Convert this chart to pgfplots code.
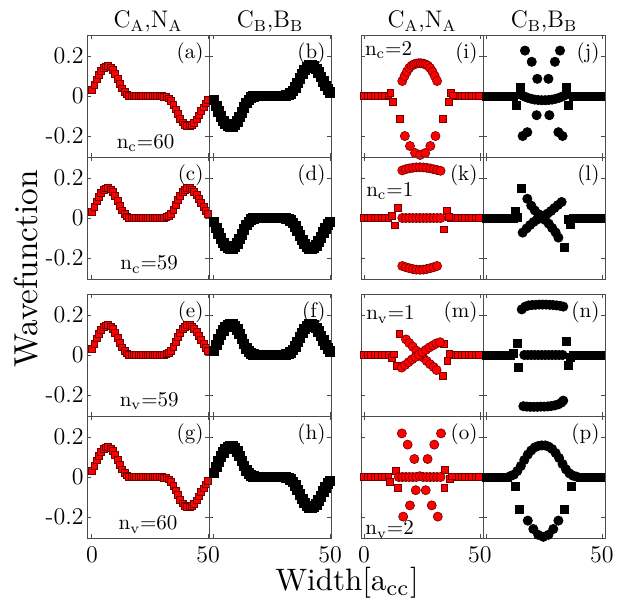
\documentclass[border=0pt]{standalone}
\usepackage{fontspec}
\usepackage{pgfplots}
\usepackage{pgfplotstable}
\pgfplotsset{compat=1.18}

\definecolor{edgered}{RGB}{110,0,0}

% left block: one column per panel (a)..(h)
\pgfplotstableread{
x  a      b      c      d      e      f      g      h
0  0.030 -0.020  0.030 -0.020  0.030  0.020  0.030  0.020
1  0.057 -0.050  0.057 -0.050  0.057  0.050  0.057  0.050
2  0.084 -0.078  0.084 -0.078  0.084  0.078  0.084  0.078
3  0.108 -0.102  0.108 -0.102  0.108  0.102  0.108  0.102
4  0.128 -0.124  0.128 -0.124  0.128  0.124  0.128  0.124
5  0.141 -0.140  0.141 -0.140  0.141  0.140  0.141  0.140
6  0.149 -0.150  0.149 -0.150  0.149  0.150  0.149  0.150
7  0.150 -0.155  0.150 -0.155  0.150  0.155  0.150  0.155
8  0.144 -0.152  0.144 -0.152  0.144  0.152  0.144  0.152
9  0.131 -0.143  0.131 -0.143  0.131  0.143  0.131  0.143
10 0.111 -0.127  0.111 -0.127  0.111  0.127  0.111  0.127
11 0.087 -0.105  0.087 -0.105  0.087  0.105  0.087  0.105
12 0.062 -0.081  0.062 -0.081  0.062  0.081  0.062  0.081
13 0.039 -0.056  0.039 -0.056  0.039  0.056  0.039  0.056
14 0.021 -0.034  0.021 -0.034  0.021  0.034  0.021  0.034
15 0.009 -0.019  0.009 -0.019  0.009  0.019  0.009  0.019
16 0.003 -0.008  0.003 -0.008  0.003  0.008  0.003  0.008
17 0     -0.003  0     -0.003  0      0.003  0      0.003
18 0      0      0      0      0      0      0      0
19 0      0      0      0      0      0      0      0
20 0      0      0      0      0      0      0      0
21 0      0      0      0      0      0      0      0
22 0      0      0      0      0      0      0      0
23 0      0      0      0      0      0      0      0
24 0      0      0      0      0      0      0      0
25 0      0      0      0      0      0      0      0
26 0      0      0      0      0      0      0      0
27 0      0      0      0      0      0      0      0
28 0      0      0      0      0      0      0      0
29 0      0      0      0      0      0      0      0
30 0      0      0      0      0      0      0      0
31 -0.002 0.002  0.002 -0.002  0.002  0.002 -0.002 -0.002
32 -0.005 0.005  0.005 -0.005  0.005  0.005 -0.005 -0.005
33 -0.011 0.012  0.011 -0.012  0.011  0.012 -0.011 -0.012
34 -0.023 0.025  0.023 -0.025  0.023  0.025 -0.023 -0.025
35 -0.042 0.043  0.042 -0.043  0.042  0.043 -0.042 -0.043
36 -0.066 0.065  0.066 -0.065  0.066  0.065 -0.066 -0.065
37 -0.090 0.088  0.090 -0.088  0.090  0.088 -0.090 -0.088
38 -0.113 0.110  0.113 -0.110  0.113  0.110 -0.113 -0.110
39 -0.131 0.130  0.131 -0.130  0.131  0.130 -0.131 -0.130
40 -0.143 0.144  0.143 -0.144  0.143  0.144 -0.143 -0.144
41 -0.150 0.153  0.150 -0.153  0.150  0.153 -0.150 -0.153
42 -0.150 0.155  0.150 -0.155  0.150  0.155 -0.150 -0.155
43 -0.144 0.149  0.144 -0.149  0.144  0.149 -0.144 -0.149
44 -0.132 0.136  0.132 -0.136  0.132  0.136 -0.132 -0.136
45 -0.116 0.118  0.116 -0.118  0.116  0.118 -0.116 -0.118
46 -0.096 0.096  0.096 -0.096  0.096  0.096 -0.096 -0.096
47 -0.075 0.073  0.075 -0.073  0.075  0.073 -0.075 -0.073
48 -0.056 0.051  0.056 -0.051  0.056  0.051 -0.056 -0.051
49 -0.036 0.033  0.036 -0.033  0.036  0.033 -0.036 -0.033
50 -0.020 0.019  0.020 -0.019  0.020  0.019 -0.020 -0.019
}\lefttab

\pgfplotsset{
  panel/.style={
    scale only axis, width=61pt, height=61pt, anchor=north west,
    ymin=-0.305, ymax=0.305, ytick={-0.2,0,0.2}, xtick={0,50},
    xticklabels={}, yticklabels={},
    tick align=inside, major tick length=2pt,
    axis line style={black!70, line width=0.4pt},
    every tick/.style={black!70, line width=0.4pt},
    tick label style={font=\fontsize{12}{14}\selectfont},
    yticklabel style={inner sep=1.5pt},
    xticklabel style={inner sep=0.5pt, yshift=-3.5pt},
    every axis title/.style={at={(0.5,1)}, anchor=base, yshift=3.5pt,
      inner sep=0pt, font=\fontsize{12}{14}\selectfont},
  },
  lpanel/.style={panel, xmin=-2.1, xmax=50.4},
  rpanel/.style={panel, xmin=-1.3, xmax=51.3},
  rsq/.style={only marks, mark=square*, mark size=1.7pt,
    mark options={fill=red, draw=edgered, line width=0.3pt}},
  rci/.style={only marks, mark=*, mark size=2.3pt,
    mark options={fill=red, draw=edgered, line width=0.3pt}},
  bband/.style={only marks, mark=square*, mark size=2.4pt,
    mark options={fill=black, draw=black}},
  bsq/.style={only marks, mark=square*, mark size=2pt,
    mark options={fill=black, draw=black}},
  bci/.style={only marks, mark=*, mark size=2.3pt,
    mark options={fill=black, draw=black}},
}
\tikzset{
  plab/.style={anchor=north east, inner sep=0pt, font=\fontsize{10.5}{12}\selectfont},
  nlab/.style={inner sep=0pt, font=\fontsize{10.5}{12}\selectfont},
}

\newcommand{\lab}[1]{\node[plab] at (rel axis cs:0.958,0.943) {(#1)};}

\begin{document}
\begin{tikzpicture}
\path[use as bounding box] (0,0) rectangle (312pt,-299.5pt);

% ---------------- left block ----------------
\begin{axis}[lpanel, at={(43.5pt,-17.5pt)}, yticklabels={-0.2,0,0.2},
  title={C\textsubscript{A},N\textsubscript{A}}]
\addplot[rsq] table[x=x,y=a] {\lefttab};
\lab{a}
\node[nlab, anchor=base] at (rel axis cs:0.48,0.071) {n\textsubscript{c}=60};
\end{axis}
\begin{axis}[lpanel, at={(104.5pt,-17.5pt)},
  title={C\textsubscript{B},B\textsubscript{B}}]
\addplot[bband] table[x=x,y=b] {\lefttab};
\lab{b}
\end{axis}

\begin{axis}[lpanel, at={(43.5pt,-78.5pt)}, yticklabels={-0.2,0,0.2}]
\addplot[rsq] table[x=x,y=c] {\lefttab};
\lab{c}
\node[nlab, anchor=base] at (rel axis cs:0.51,0.074) {n\textsubscript{c}=59};
\end{axis}
\begin{axis}[lpanel, at={(104.5pt,-78.5pt)}]
\addplot[bband] table[x=x,y=d] {\lefttab};
\lab{d}
\end{axis}

\begin{axis}[lpanel, at={(43.5pt,-147pt)}, yticklabels={-0.2,0,0.2}]
\addplot[rsq] table[x=x,y=e] {\lefttab};
\lab{e}
\node[nlab, anchor=base] at (rel axis cs:0.51,0.082) {n\textsubscript{v}=59};
\end{axis}
\begin{axis}[lpanel, at={(104.5pt,-147pt)}]
\addplot[bband] table[x=x,y=f] {\lefttab};
\lab{f}
\end{axis}

\begin{axis}[lpanel, at={(43.5pt,-208pt)}, yticklabels={-0.2,0,0.2},
  xticklabels={0,50}]
\addplot[rsq] table[x=x,y=g] {\lefttab};
\lab{g}
\node[nlab, anchor=base] at (rel axis cs:0.5,0.066) {n\textsubscript{v}=60};
\end{axis}
\begin{axis}[lpanel, at={(104.5pt,-208pt)}, xticklabels={,50}]
\addplot[bband] table[x=x,y=h] {\lefttab};
\lab{h}
\end{axis}

% ---------------- right block ----------------
% (i)
\begin{axis}[rpanel, at={(180.5pt,-17.5pt)},
  title={C\textsubscript{A},N\textsubscript{A}}]
\addplot[rsq] coordinates {(0,0)(1.5,0)(3,0)(4.5,0)(6,0)(7.5,0)(9,0)
  (39,0)(40.5,0)(42,0)(43.5,0)(45,0)(46.5,0)(48,0)(49.5,0)};
\addplot[rsq] coordinates {(10.5,0.004)(11.3,0.016)(12.3,-0.03)(15.5,-0.112)
  (33.9,-0.112)(36.4,-0.03)(37.4,0.016)(38.2,0.004)};
\addplot[rci] coordinates {(16.5,0.075)(17.5,0.1)(18.5,0.122)(19.5,0.14)(20.5,0.152)
  (21.5,0.158)(22.5,0.162)(23.5,0.164)(24.5,0.164)(25.5,0.162)(26.5,0.158)
  (27.5,0.152)(28.5,0.14)(29.5,0.122)(30.5,0.1)(31.5,0.075)};
\addplot[rci] coordinates {(17.6,-0.2)(19.8,-0.25)(22,-0.285)(24.2,-0.295)
  (26.4,-0.285)(28.6,-0.25)(30.8,-0.2)};
\lab{i}
\node[nlab, anchor=base west] at (rel axis cs:0.03,0.836) {n\textsubscript{c}=2};
\end{axis}
% (j)
\begin{axis}[rpanel, at={(241.5pt,-17.5pt)},
  title={C\textsubscript{B},B\textsubscript{B}}]
\addplot[bsq] coordinates {(0,0)(1.5,0)(3,0)(4.5,0)(6,0)(7.5,0)(9,0)(10.5,0)(12,0)
  (37.5,0)(39,0)(40.5,0)(42,0)(43.5,0)(45,0)(46.5,0)(48,0)(49.5,0)};
\addplot[bsq] coordinates {(13.2,-0.046)(14.7,0.044)(34.8,0.044)(35.5,-0.046)};
\addplot[bci] coordinates {(15,0.006)(16.5,-0.002)(18,-0.009)(19.5,-0.014)(21,-0.018)
  (22.5,-0.02)(24,-0.021)(25.5,-0.021)(27,-0.02)(28.5,-0.018)(30,-0.014)
  (31.5,-0.009)(33,-0.002)(34.5,0.006)};
\addplot[bci] coordinates {(16.8,0.227)(31.9,0.227)(19.7,0.171)(29.7,0.171)
  (22.1,0.086)(26.9,0.086)(21.8,-0.096)(27.3,-0.096)(17.8,-0.181)(31.2,-0.181)
  (15.8,-0.2)(33,-0.2)};
\lab{j}
\end{axis}

% (k)
\begin{axis}[rpanel, at={(180.5pt,-78.5pt)}]
\addplot[rsq] coordinates {(0,0)(1.5,0)(3,0)(4.5,0)(6,0)(7.5,0)(9,0)(10.5,0)
  (37.5,0)(39,0)(40.5,0)(42,0)(43.5,0)(45,0)(46.5,0)(48,0)(49.5,0)};
\addplot[rsq] coordinates {(11.9,0.012)(13.4,-0.036)(14.4,0.052)
  (34.5,-0.056)(35.6,0.035)(36.5,0.008)};
\addplot[rci] coordinates {(16.5,0)(18,0)(19.5,0)(21,0)(22.5,0)(24,0)(25.5,0)
  (27,0)(28.5,0)(30,0)(31.5,0)(33,0)};
\addplot[rci] coordinates {(16.5,0.238)(18,0.244)(19.5,0.248)(21,0.251)(22.5,0.253)
  (24,0.254)(25.5,0.253)(27,0.251)(28.5,0.248)(30,0.244)(31.5,0.24)(33,0.236)};
\addplot[rci] coordinates {(16.5,-0.24)(18,-0.246)(19.5,-0.251)(21,-0.255)
  (22.5,-0.258)(24,-0.259)(25.5,-0.258)(27,-0.255)(28.5,-0.251)(30,-0.246)(31.5,-0.24)};
\lab{k}
\node[nlab, anchor=base west] at (rel axis cs:0.04,0.675) {n\textsubscript{c}=1};
\end{axis}
% (l)
\begin{axis}[rpanel, at={(241.5pt,-78.5pt)}]
\addplot[bsq] coordinates {(0,0)(1.5,0)(3,0)(4.5,0)(6,0)(7.5,0)(9,0)(10.5,0)(12,0)
  (37.5,0)(39,0)(40.5,0)(42,0)(43.5,0)(45,0)(46.5,0)(48,0)(49.5,0)};
\addplot[bsq] coordinates {(12.5,0.032)(13.5,0.005)(15.4,0.147)
  (33.6,-0.149)(35.5,-0.005)(36.2,-0.03)};
\addplot[bci] coordinates {(17.8,0.096)(19.5,0.062)(21,0.038)(22.5,0.02)(24,0.006)
  (25.5,-0.01)(27,-0.028)(28.5,-0.05)(30,-0.072)(31.2,-0.098)};
\addplot[bci] coordinates {(15.8,-0.073)(17.5,-0.052)(19,-0.035)(20.5,-0.02)
  (22,-0.008)(23.5,0.002)(25,0.012)(26.5,0.022)(28,0.035)(29.5,0.05)(31,0.065)(32.6,0.08)};
\lab{l}
\end{axis}

% (m)
\begin{axis}[rpanel, at={(180.5pt,-147pt)}]
\addplot[rsq] coordinates {(0,0)(1.5,0)(3,0)(4.5,0)(6,0)(7.5,0)(9,0)(10.5,0)
  (37.5,0)(39,0)(40.5,0)(42,0)(43.5,0)(45,0)(46.5,0)(48,0)(49.5,0)};
\addplot[rsq] coordinates {(11.9,-0.012)(13,0.004)(14.1,-0.054)(15.2,0.107)
  (33.9,-0.105)(34.5,0.056)(35.9,-0.029)(36.8,0.006)};
\addplot[rci] coordinates {(18.1,0.078)(19.5,0.06)(21,0.042)(22.5,0.022)(24,0.004)
  (25.5,-0.012)(27,-0.03)(28.5,-0.046)(30,-0.06)(31.3,-0.075)};
\addplot[rci] coordinates {(16.2,-0.063)(17.7,-0.05)(19.2,-0.036)(20.7,-0.022)
  (22.2,-0.01)(23.7,0.002)(25.2,0.014)(26.7,0.026)(28.2,0.038)(29.7,0.048)
  (31.2,0.058)(32.8,0.064)};
\lab{m}
\node[nlab, anchor=base west] at (rel axis cs:0.04,0.787) {n\textsubscript{v}=1};
\end{axis}
% (n)
\begin{axis}[rpanel, at={(241.5pt,-147pt)}]
\addplot[bsq] coordinates {(0,0)(1.5,0)(3,0)(4.5,0)(6,0)(7.5,0)(9,0)(10.5,0)
  (37.5,0)(39,0)(40.5,0)(42,0)(43.5,0)(45,0)(46.5,0)(48,0)(49.5,0)};
\addplot[bsq] coordinates {(12,0.01)(13.5,0.056)(13.9,-0.063)
  (34.5,0.068)(35.5,-0.054)(36.5,-0.01)};
\addplot[bci] coordinates {(16.5,0)(18,0)(19.5,0)(21,0)(22.5,0)(24,0)(25.5,0)
  (27,0)(28.5,0)(30,0)(31.5,0)(33,0)};
\addplot[bci] coordinates {(15.4,0.228)(16.9,0.242)(18.4,0.248)(19.9,0.25)
  (21.4,0.251)(22.9,0.252)(24.4,0.252)(25.9,0.252)(27.4,0.251)(28.9,0.25)
  (30.4,0.248)(31.9,0.246)(33.3,0.242)};
\addplot[bci] coordinates {(16.1,-0.256)(17.6,-0.258)(19.1,-0.259)(20.6,-0.259)
  (22.1,-0.259)(23.6,-0.258)(25.1,-0.258)(26.6,-0.257)(28.1,-0.255)(29.6,-0.252)
  (31.1,-0.247)(32.5,-0.238)(33.3,-0.228)};
\lab{n}
\end{axis}

% (o)
\begin{axis}[rpanel, at={(180.5pt,-208pt)}, xticklabels={0,50}]
\addplot[rsq] coordinates {(0,0)(1.5,0)(3,0)(4.5,0)(6,0)(7.5,0)(9,0)
  (39,0)(40.5,0)(42,0)(43.5,0)(45,0)(46.5,0)(48,0)(49.5,0)};
\addplot[rsq] coordinates {(10.5,0.003)(11.2,-0.024)(13.7,0.032)(14.5,-0.054)
  (34.6,-0.054)(34.9,0.036)(37,-0.01)(38,0.004)};
\addplot[rci] coordinates {(15,0)(16.5,0)(18,0)(19.5,0)(21,0)(22.5,0)(24,0.004)
  (25.5,0)(27,0)(28.5,0)(30,0)(31.5,0)(33,0)};
\addplot[rci] coordinates {(16.3,0.218)(33.2,0.218)(18.8,0.162)(30.3,0.162)
  (21.7,0.09)(27.4,0.09)(22.3,-0.066)(26.6,-0.066)(19.8,-0.142)(29.2,-0.142)
  (16.9,-0.198)(31.8,-0.198)};
\lab{o}
\node[nlab, anchor=base west] at (rel axis cs:0.033,0.025) {n\textsubscript{v}=2};
\end{axis}
% (p)
\begin{axis}[rpanel, at={(241.5pt,-208pt)}, xticklabels={,50}]
\addplot[bsq] coordinates {(0,0)(1.5,0)(3,0)(4.5,0)(6,0)(7.5,0)(9,0)
  (40.5,0)(42,0)(43.5,0)(45,0)(46.5,0)(48,0)(49.5,0)};
\addplot[bci] coordinates {(10.5,0.005)(12,0.012)(13.5,0.03)(15,0.055)(16.5,0.085)
  (18,0.112)(19.5,0.133)(21,0.148)(22.5,0.155)(24,0.158)(25.5,0.158)(27,0.152)
  (28.5,0.14)(30,0.12)(31.5,0.095)(33,0.065)(34.5,0.038)(36,0.018)(37.5,0.007)(39,0.002)};
\addplot[bsq] coordinates {(12.5,-0.046)(14.2,-0.164)(33.8,-0.164)(36.6,-0.046)};
\addplot[bci] coordinates {(18,-0.218)(20.4,-0.26)(22.5,-0.289)(24.7,-0.299)
  (26.9,-0.289)(29,-0.26)(31.2,-0.218)};
\lab{p}
\end{axis}

% axis labels
\node[rotate=90, anchor=base, scale=1.66, inner sep=0pt,
  font=\fontsize{10}{12}\selectfont] at (18.5pt,-134.5pt) {Wavefunction};
\node[anchor=base, scale=1.55, inner sep=0pt,
  font=\fontsize{10}{12}\selectfont] at (173.5pt,-295.3pt) {Width[a\textsubscript{cc}]};
\end{tikzpicture}
\end{document}
